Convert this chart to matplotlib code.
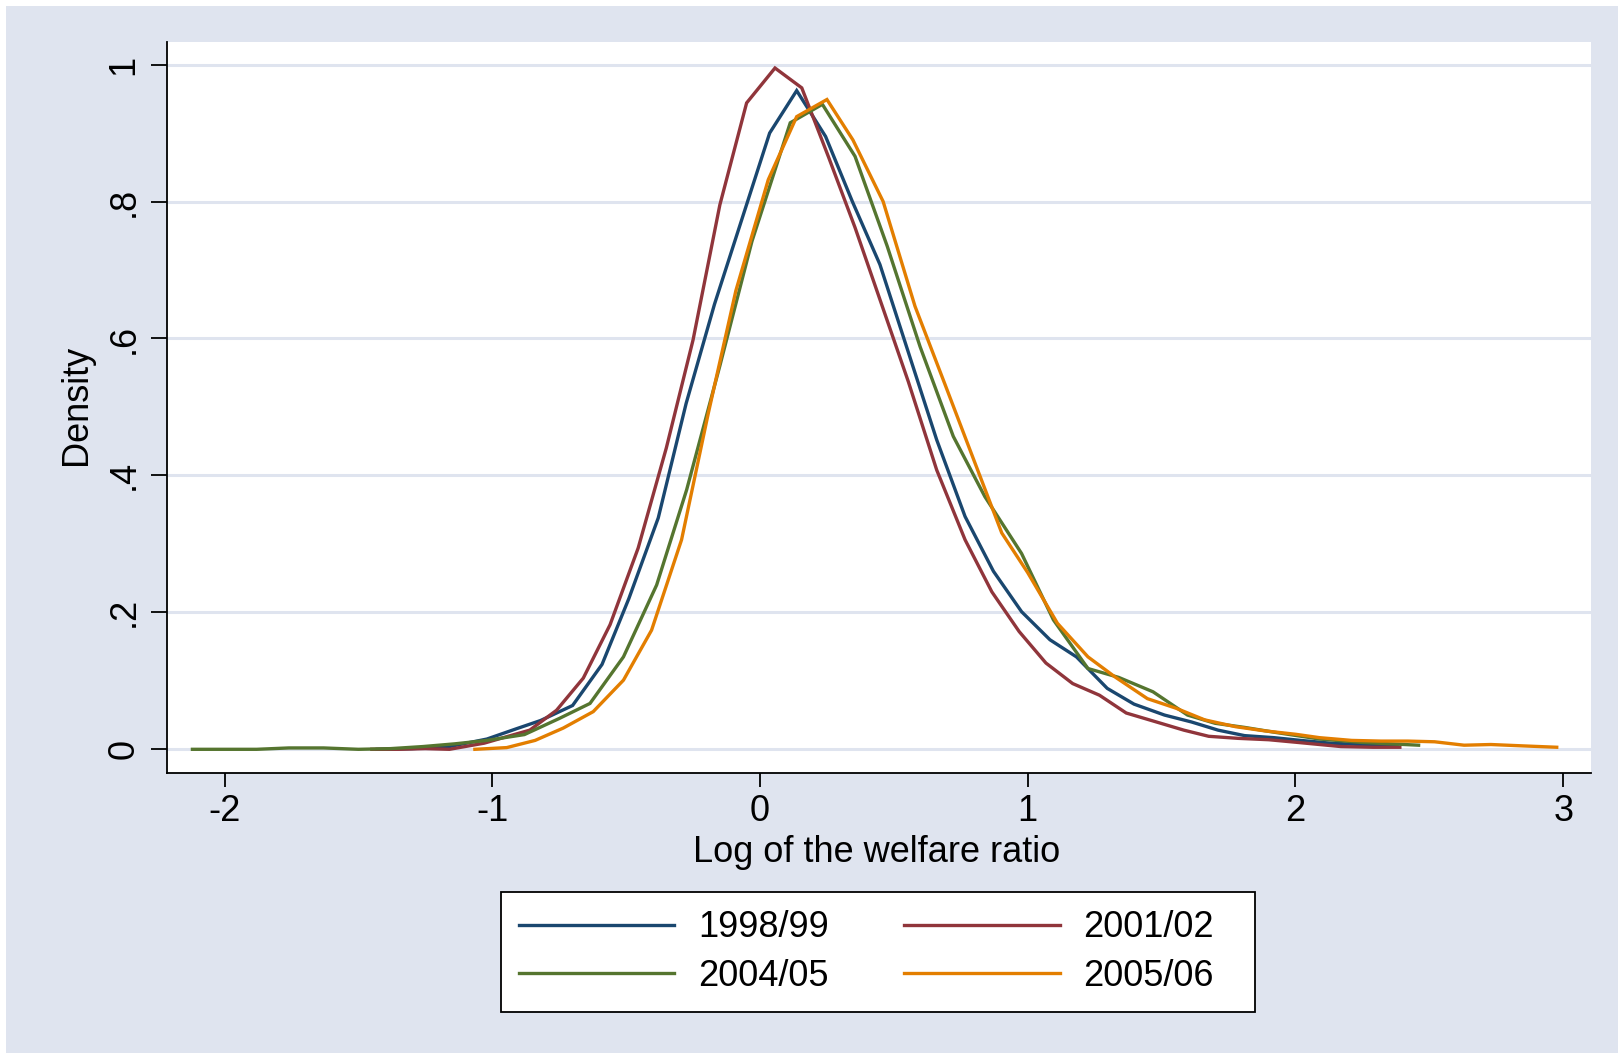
import matplotlib
matplotlib.use("Agg")
import matplotlib.pyplot as plt
from matplotlib.patches import Rectangle

# Kernel density of log welfare ratio
x_9899 = [-1.43, -1.30, -1.16, -1.02, -0.91, -0.82, -0.70, -0.59, -0.49, -0.38,
          -0.276, -0.17, -0.067, 0.036, 0.137, 0.245, 0.345, 0.448, 0.554, 0.66,
          0.766, 0.872, 0.977, 1.083, 1.182, 1.297, 1.397, 1.511, 1.611, 1.711,
          1.81, 1.92, 2.02, 2.13, 2.24, 2.38]
d_9899 = [0.0, 0.001, 0.004, 0.015, 0.03, 0.042, 0.064, 0.124, 0.22, 0.338,
          0.505, 0.65, 0.775, 0.90, 0.962, 0.895, 0.80, 0.708, 0.58, 0.452,
          0.34, 0.26, 0.201, 0.16, 0.135, 0.089, 0.066, 0.05, 0.04, 0.028,
          0.02, 0.017, 0.013, 0.009, 0.007, 0.005]

x_0102 = [-1.45, -1.35, -1.25, -1.16, -1.03, -0.95, -0.86, -0.76, -0.66, -0.56,
          -0.455, -0.35, -0.25, -0.15, -0.05, 0.056, 0.156, 0.256, 0.355, 0.455,
          0.554, 0.66, 0.766, 0.866, 0.968, 1.068, 1.168, 1.268, 1.368, 1.48,
          1.583, 1.676, 1.786, 1.9, 2.01, 2.17, 2.29, 2.39]
d_0102 = [0.0, 0.0, 0.001, 0.0, 0.009, 0.018, 0.028, 0.057, 0.104, 0.182,
          0.294, 0.44, 0.598, 0.795, 0.944, 0.995, 0.966, 0.865, 0.762, 0.649,
          0.537, 0.408, 0.306, 0.23, 0.172, 0.126, 0.096, 0.079, 0.053, 0.04,
          0.028, 0.019, 0.016, 0.014, 0.01, 0.004, 0.003, 0.003]

x_0405 = [-2.12, -2.0, -1.88, -1.76, -1.63, -1.50, -1.38, -1.26, -1.14, -1.02,
          -0.88, -0.75, -0.635, -0.51, -0.386, -0.274, -0.15, -0.03, 0.113, 0.233,
          0.355, 0.475, 0.598, 0.722, 0.84, 0.977, 1.096, 1.225, 1.34, 1.468,
          1.597, 1.70, 1.81, 1.92, 2.09, 2.25, 2.46]
d_0405 = [0.0, 0.0, 0.0, 0.002, 0.002, 0.0, 0.001, 0.004, 0.008, 0.013,
          0.0215, 0.045, 0.067, 0.135, 0.24, 0.379, 0.56, 0.742, 0.915, 0.942,
          0.866, 0.735, 0.588, 0.457, 0.369, 0.286, 0.189, 0.118, 0.105, 0.084,
          0.05, 0.038, 0.032, 0.025, 0.015, 0.01, 0.006]

x_0506 = [-1.065, -0.946, -0.84, -0.735, -0.623, -0.51, -0.405, -0.293, -0.193, -0.09,
          0.031, 0.137, 0.25, 0.347, 0.46, 0.579, 0.69, 0.81, 0.903, 1.0,
          1.111, 1.225, 1.325, 1.447, 1.554, 1.661, 1.777, 1.884, 2.0, 2.09,
          2.21, 2.32, 2.42, 2.52, 2.63, 2.73, 2.85, 2.976]
d_0506 = [0.0, 0.0025, 0.013, 0.031, 0.055, 0.101, 0.174, 0.306, 0.491, 0.67,
          0.832, 0.924, 0.949, 0.89, 0.80, 0.647, 0.534, 0.411, 0.316, 0.258,
          0.184, 0.135, 0.106, 0.074, 0.06, 0.043, 0.033, 0.027, 0.022, 0.017,
          0.013, 0.012, 0.012, 0.011, 0.006, 0.007, 0.005, 0.003]

labels = ["1998/99", "2001/02", "2004/05", "2005/06"]
y_ticks = [0, 0.2, 0.4, 0.6, 0.8, 1.0]
y_ticklabels = ["0", ".2", ".4", ".6", ".8", "1"]
x_ticks = [-2, -1, 0, 1, 2, 3]

# Stata s2color look
NAVY = "#1a476f"
MAROON = "#90353b"
FOREST = "#55752f"
DKORANGE = "#e37e00"
BG = "#dfe4ef"
FS = 26

plt.rcParams["font.family"] = ["Liberation Sans", "DejaVu Sans"]

W, H = 1624, 1057
fig = plt.figure(figsize=(W / 100, H / 100), dpi=100, facecolor="white")
fig.patches.append(Rectangle((6 / W, 4 / H), 1 - 12 / W, 1 - 10 / H,
                             transform=fig.transFigure, facecolor=BG,
                             edgecolor="none", zorder=-10))

ax = fig.add_axes([167 / W, 1 - 773 / H, (1591 - 167) / W, (773 - 42) / H])
ax.set_facecolor("white")

for y in y_ticks:
    ax.axhline(y, color=BG, linewidth=2.2, zorder=1)

series = [(x_9899, d_9899, NAVY), (x_0102, d_0102, MAROON),
          (x_0405, d_0405, FOREST), (x_0506, d_0506, DKORANGE)]
handles = []
for (xs, ds, c), lab in zip(series, labels):
    h, = ax.plot(xs, ds, color=c, linewidth=2.4, label=lab, zorder=3,
                 solid_joinstyle="miter")
    handles.append(h)

ax.set_xlim(-2.215, 3.104)
ax.set_ylim(-0.0346, 1.033)

for side in ("top", "right"):
    ax.spines[side].set_visible(False)
for side in ("left", "bottom"):
    ax.spines[side].set_color("black")
    ax.spines[side].set_linewidth(1.3)

ax.set_xticks(x_ticks)
ax.set_xticklabels([str(v) for v in x_ticks])
ax.set_yticks(y_ticks)
ax.set_yticklabels(y_ticklabels, rotation=90, va="center")
ax.tick_params(axis="x", direction="out", length=10, width=1.3,
               labelsize=FS, pad=5, colors="black")
ax.tick_params(axis="y", direction="out", length=11.5, width=1.3,
               labelsize=FS, pad=7, colors="black")

fig.text(877 / W, 1 - 853 / H, "Log of the welfare ratio", fontsize=FS,
         ha="center", va="center")
fig.text(77 / W, 1 - 405 / H, "Density", fontsize=FS, rotation=90,
         ha="center", va="center")

# legend box drawn separately, Stata leaves extra room on the right
fig.patches.append(Rectangle((501 / W, 1 - 1012 / H), 754 / W, 120 / H,
                             transform=fig.transFigure, facecolor="white",
                             edgecolor="black", linewidth=1.3, zorder=-5))
# row-wise order like Stata: 1998/99, 2001/02 / 2004/05, 2005/06
order = [0, 2, 1, 3]
leg = fig.legend([handles[i] for i in order], [labels[i] for i in order],
                 loc="center left", bbox_to_anchor=(501 / W, 1 - 952 / H),
                 ncol=2, fontsize=FS, frameon=False, handlelength=4.3,
                 handletextpad=0.65, columnspacing=2.1, borderpad=0.5,
                 labelspacing=0.38, borderaxespad=0)
for line in leg.get_lines():
    line.set_linewidth(2.4)

fig.savefig("out.png", dpi=100, facecolor=fig.get_facecolor())
